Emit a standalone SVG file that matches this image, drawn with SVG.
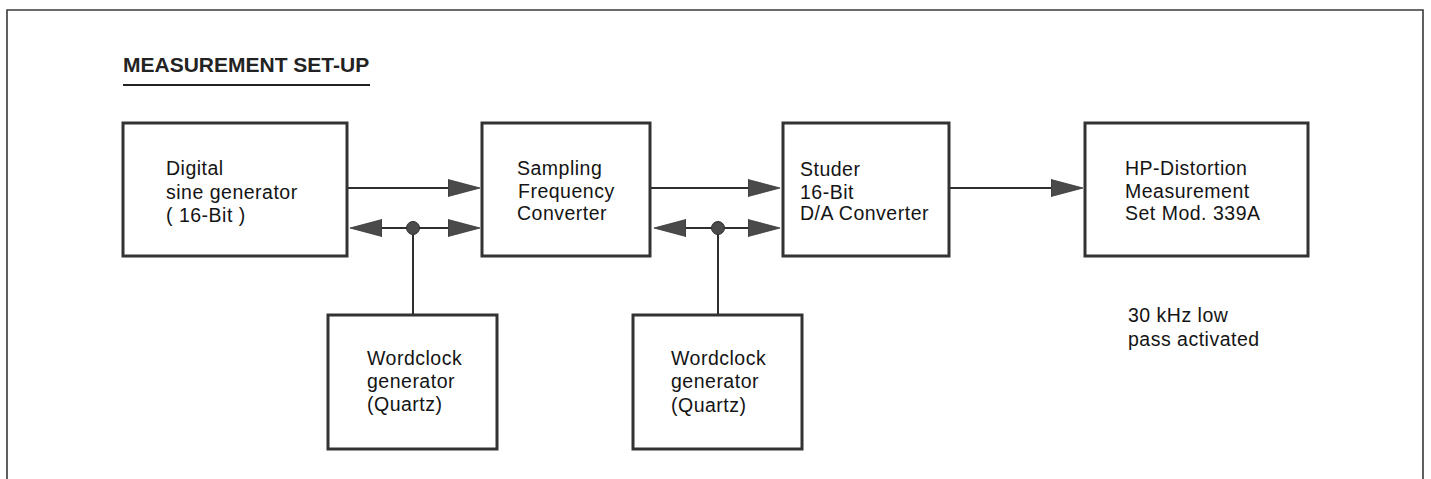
<svg xmlns="http://www.w3.org/2000/svg" width="1431" height="479" viewBox="0 0 1431 479">
  <style>
    .frame { fill: none; stroke: #3a3a3a; stroke-width: 1.6; }
    .box { fill: #ffffff; stroke: #333333; stroke-width: 3; }
    .wire { fill: none; stroke: #2e2e2e; stroke-width: 2; }
    .dot { fill: #4a4a4a; stroke: #2e2e2e; stroke-width: 1; }
    .lbl { font-family: "Liberation Sans", Arial, Helvetica, sans-serif; font-size: 19.5px; letter-spacing: 0.5px; fill: #141414; }
    .title { font-family: "Liberation Sans", Arial, Helvetica, sans-serif; font-size: 21px; font-weight: bold; fill: #222222; }
  </style>
  <defs>
    <marker id="ah" viewBox="0 -9 32 18" markerWidth="32" markerHeight="18" refX="2" refY="0" orient="auto-start-reverse" markerUnits="userSpaceOnUse">
      <path d="M0,-8.5 L32,0 L0,8.5 Z" fill="#4a4a4a" stroke="#333333" stroke-width="0.8"/>
    </marker>
  </defs>

  <rect width="1431" height="479" fill="#ffffff"/>

  <!-- page frame (open at the bottom) -->
  <path class="frame" d="M7,485 V10 H1423 V485"/>

  <!-- heading -->
  <g id="heading">
    <text class="title" x="123" y="72">MEASUREMENT SET-UP</text>
    <line x1="123" y1="85" x2="370" y2="85" stroke="#222222" stroke-width="2"/>
  </g>

  <!-- signal chain and clock connections -->
  <g id="connectors">
    <line class="wire" x1="347" y1="188" x2="450" y2="188" marker-end="url(#ah)"/>
    <line class="wire" x1="380" y1="228" x2="450" y2="228" marker-start="url(#ah)" marker-end="url(#ah)"/>
    <line class="wire" x1="413" y1="228" x2="413" y2="315"/>
    <circle class="dot" cx="413" cy="228" r="6.5"/>

    <line class="wire" x1="650" y1="188" x2="750" y2="188" marker-end="url(#ah)"/>
    <line class="wire" x1="684" y1="228" x2="750" y2="228" marker-start="url(#ah)" marker-end="url(#ah)"/>
    <line class="wire" x1="718" y1="228" x2="718" y2="315"/>
    <circle class="dot" cx="718" cy="228" r="6.5"/>

    <line class="wire" x1="949" y1="188" x2="1053" y2="188" marker-end="url(#ah)"/>
  </g>

  <g id="sine-generator">
    <rect class="box" x="123" y="123" width="224" height="133"/>
    <text class="lbl" x="166" y="175">Digital</text>
    <text class="lbl" x="166" y="198.5">sine generator</text>
    <text class="lbl" x="166" y="222">( 16-Bit )</text>
  </g>

  <g id="sampling-converter">
    <rect class="box" x="482" y="123" width="168" height="133"/>
    <text class="lbl" x="517" y="175">Sampling</text>
    <text class="lbl" x="518" y="198">Frequency</text>
    <text class="lbl" x="517" y="220">Converter</text>
  </g>

  <g id="da-converter">
    <rect class="box" x="783" y="123" width="166" height="133"/>
    <text class="lbl" x="800" y="176">Studer</text>
    <text class="lbl" x="800" y="199">16-Bit</text>
    <text class="lbl" x="800" y="220">D/A Converter</text>
  </g>

  <g id="distortion-meter">
    <rect class="box" x="1085" y="123" width="223" height="133"/>
    <text class="lbl" x="1125" y="175">HP-Distortion</text>
    <text class="lbl" x="1125" y="198">Measurement</text>
    <text class="lbl" x="1125" y="220">Set Mod. 339A</text>
  </g>

  <g id="wordclock-1">
    <rect class="box" x="328" y="315" width="169" height="134"/>
    <text class="lbl" x="367" y="365">Wordclock</text>
    <text class="lbl" x="367" y="388">generator</text>
    <text class="lbl" x="367" y="411">(Quartz)</text>
  </g>

  <g id="wordclock-2">
    <rect class="box" x="633" y="315" width="169" height="134"/>
    <text class="lbl" x="671" y="365">Wordclock</text>
    <text class="lbl" x="671" y="388">generator</text>
    <text class="lbl" x="671" y="412">(Quartz)</text>
  </g>

  <g id="filter-note">
    <text class="lbl" x="1128" y="322">30 kHz low</text>
    <text class="lbl" x="1128" y="346">pass activated</text>
  </g>
</svg>
